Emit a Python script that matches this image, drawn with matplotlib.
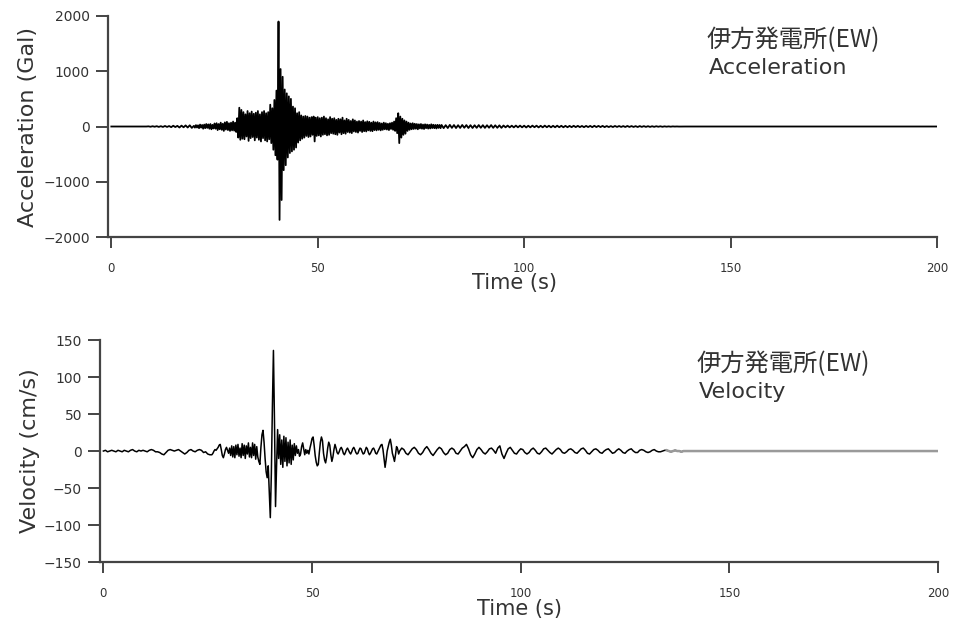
#!/usr/bin/env python3
"""伊方発電所(EW) の加速度・速度波形 (2段) を out.png に描く."""

import matplotlib

matplotlib.use("Agg")
import matplotlib.pyplot as plt
import numpy as np

# ---- データ ----
# 各区間: 開始時刻 [s], サンプル間隔 [s], 値
acc_pre = [
    0, 0, 0, 0, 0, 0, 0, 0, 0, 0, 0, 0, 0, 0, 0, 0, 0, 0, 3, -4,
    5, -4, 6, -7, 6, -8, 10, -8, 9, -12, 14, -10, 12, -18, 16, -14, 20, -18, 22, -25,
]
acc_main = [
    12, -20, 25, -18, 22, -30, 35, -20, 28, -40, 35, -30, 45, -25, 38, -40, 45, -50, 30, -35,
    55, -40, 60, -65, 45, -50, 70, -60, 50, -80, 75, -55, 85, -65, 60, -80, 70, -70, 90, -75,
    70, -100, 150, -200, 340, -240, 300, -220, 260, -230, 220, -180, 280, -260, 240, -210, 270, -190, 230, -250,
    250, -200, 280, -240, 220, -270, 260, -210, 280, -250, 240, -270, 260, -230, 395, -300, 330, -420, 480, -520,
    650, -600, 1900, -1690, 1040, -1330, 900, -790, 670, -700, 600, -560, 545, -480, 500, -450, 360, -420, 330, -380,
    240, -290, 260, -250, 200, -220, 180, -200, 190, -170, 180, -190, 160, -180, 170, -150, 180, -270, 160, -170,
    170, -160, 150, -180, 160, -150, 180, -140, 150, -160, 130, -150, 170, -120, 140, -130, 150, -140, 120, -150,
    140, -110, 130, -140, 160, -120, 110, -130, 140, -100, 120, -110, 100, -120, 130, -90, 110, -100, 90, -110,
    100, -80, 90, -100, 110, -85, 80, -90, 95, -70, 85, -80, 70, -85, 90, -65, 75, -70, 80, -60,
    65, -70, 55, -60, 70, -50, 60, -55, 50, -65, 60, -45, 70, -60, 90, -80, 150, -120, 240, -300,
    180, -200, 140, -150, 110, -130, 90, -80, 70, -60, 55, -50, 60, -45, 50, -40, 45, -50, 40, -35,
    45, -40, 35, -45, 40, -30, 35, -38, 30, -35, 40, -28, 32, -30, 28, -35, 30, -25, 28, -30,
]
acc_coda = [
    28, -30, 25, -28, 30, -25, 27, -28, 24, -26, 28, -23, 26, -27, 24, -27, 23, -24, 26, -23,
    24, -25, 23, -22, 26, -24, 22, -23, 21, -24, 18, -15, 17, -16, 15, -16, 17, -15, 16, -15,
    15, -17, 14, -15, 16, -13, 15, -16, 13, -15, 16, -13, 14, -15, 13, -14, 15, -13, 13, -14,
    12, -13, 11, -12, 13, -11, 12, -11, 10, -12, 11, -10, 11, -12, 13, -10, 11, -10, 11, -11,
    9, -10, 8, -10, 10, -8, 9, -8, 8, -9, 10, -8, 8, -8, 7, -9, 8, -7, 7, -7,
    6, -7, 5, -6, 5, -4, 4, -5, 3, -3, 2, -3, 2, -1, 1, -1, 0, 0, 0, 0,
]
acc_tail = [0, 0]

vel_pre = [
    0, 1, -1, 0, 1, 0, -1, 1, 0, -1, 1, 0, -1, 1, 2, 0, -1, 1, 0, 1,
    0, -1, 1, 2, 1, -1, -1, -2, -4, -5, -2, 1, 2, 1, 0, 1, 2, 0, -2, -4,
    -2, 1, 2, 0, -1, 1, 2, 1, -2, -1, -4, -5,
]
vel_main = [
    -5, -3, 0, 2, 1, 3, 5, 8, 9, 2, -6, -9, -4, 2, 5, 1, -3, 4, -6, 7,
    -8, 6, -9, 8, -5, 9, -7, 4, -9, 10, -6, 8, -10, 7, -4, 11, -8, 5, -9, 11,
    -6, 9, -11, 6, -8, -14, -18, 5, 22, 28, 12, -10, -28, -36, -20, -55, -90, -30, 60, 136,
    40, -75, -20, 29, -10, 22, -18, 15, -22, 20, -14, 18, -20, 12, -16, 15, -18, 8, -12, 10,
    -6, 7, -3, 2, -7, -4, 6, 11, 3, -5, 2, -3, 1, -4, 4, 10, 17, 19, 8, -6,
    -15, -20, -18, -2, 12, 19, 14, -3, -12, -16, -8, 4, 12, 8, -5, -14, -8, 2, 9, 4,
    -2, -4, -1, 3, 5, 2, -3, -5, -2, 2, 4, 1, -2, -4, -1, 3, 5, 2, -2, -4,
    -3, 1, 4, 3, -1, -4, -3, 1, 5, 3, -2, -5, -3, 0, 3, 4, 1, -3, -4, -1,
    2, 5, 8, 9, 2, -10, -22, -12, 0, 6, 12, 16, 8, -3, -8, -14, -5, 6, 3, -4,
]
vel_coda = [
    0, 4, 2, -3, -5, -1, 3, 5, 2, -3, -5, -2, 3, 6, 2, -3, -6, -2, 2, 5,
    3, -2, -5, -3, 2, 4, 2, -3, -4, 0, 4, 6, 9, 3, -5, -9, -4, 2, 5, 2,
    -2, -4, -1, 3, 4, 1, -3, 4, 7, -4, -10, -3, 3, 5, 1, -3, -4, 0, 3, 2,
    -2, -4, -2, 2, 4, 1, -3, -4, -1, 3, 4, 1, -2, -4, -1, 2, 4, 2, -2, -3,
    -1, 2, 3, 1, -2, -3, 0, 3, 4, 1, -3, -4, -1, 2, 3, 1, -2, -3, 0, 2,
    3, 0, -3, -2, 1, 3, 1, -2, -3, 0, 2, 3, 0, -2, -2, 1, 2, 1, -1, -2,
    -1, 1, 2, 0, -1, -1, 0, 1, 1, 0, -1, 0, 1, 0, 0, -1, 0, 0,
]
vel_tail = [0, 0]

ACC_SEGMENTS = [(0.0, 0.5, acc_pre), (20.0, 0.25, acc_main), (80.0, 0.5, acc_coda), (140.0, 60.0, acc_tail)]
VEL_SEGMENTS = [(0.0, 0.5, vel_pre), (26.0, 0.25, vel_main), (71.0, 0.5, vel_coda), (140.0, 60.0, vel_tail)]

x_ticks = [0, 50, 100, 150, 200]
acc_ticks = [-2000, -1000, 0, 1000, 2000]
vel_ticks = [-150, -100, -50, 0, 50, 100, 150]

STATION = "伊方発電所(EW)"
AXIS_GRAY = "#444444"
TEXT_GRAY = "#333333"
CJK = ["Noto Sans CJK JP", "DejaVu Sans"]


def _stitch(segments):
    ts, vs = [], []
    for t0, dt, vals in segments:
        ts.append(t0 + dt * np.arange(len(vals)))
        vs.append(np.asarray(vals, dtype=float))
    return np.concatenate(ts), np.concatenate(vs)


def _style_axes(ax, yticks, ylabel, ylim, label_x, ylabel_x):
    for side in ("top", "right"):
        ax.spines[side].set_visible(False)
    for side in ("left", "bottom"):
        ax.spines[side].set_color(AXIS_GRAY)
        ax.spines[side].set_linewidth(1.6)
    ax.set_xlim(-0.8, 200)
    ax.set_ylim(*ylim)
    ax.set_xticks(x_ticks)
    ax.set_yticks(yticks)
    ax.tick_params(axis="x", direction="out", length=8, width=1.4, color=AXIS_GRAY,
                   labelsize=8.5, labelcolor=TEXT_GRAY, pad=10)
    ax.tick_params(axis="y", direction="out", length=9, width=1.4, color=AXIS_GRAY,
                   labelsize=10, labelcolor=TEXT_GRAY, pad=4)
    ax.set_xlabel("Time (s)", fontsize=15, color=TEXT_GRAY)
    ax.xaxis.set_label_coords(label_x, -0.165)
    ax.set_ylabel(ylabel, fontsize=16, color=TEXT_GRAY)
    ax.yaxis.set_label_coords(ylabel_x, 0.5)


def _annotate(ax, x, kind):
    ax.text(x, 0.95, STATION, transform=ax.transAxes, fontsize=17.5,
            family=CJK, color=TEXT_GRAY, va="top")
    ax.text(x + 0.003, 0.81, kind, transform=ax.transAxes, fontsize=16,
            color=TEXT_GRAY, va="top")


def main() -> None:
    plt.rcParams["font.family"] = ["DejaVu Sans", "Noto Sans CJK JP"]
    t_acc, acc = _stitch(ACC_SEGMENTS)
    t_vel, vel = _stitch(VEL_SEGMENTS)

    fig = plt.figure(figsize=(9.61, 6.2), dpi=100)
    ax1 = fig.add_axes([0.1124, 0.6177, 0.8626, 0.3565])
    ax2 = fig.add_axes([0.1041, 0.0935, 0.872, 0.358])

    ax1.plot(t_acc, acc, color="black", linewidth=1.3)
    _style_axes(ax1, acc_ticks, "Acceleration (Gal)", (-2000, 2000), 0.49, -0.085)
    _annotate(ax1, 0.722, "Acceleration")

    ax2.plot(t_vel, vel, color="black", linewidth=1.1)
    tail = t_vel >= 135
    ax2.plot(t_vel[tail], vel[tail], color="#9a9a9a", linewidth=1.8)
    _style_axes(ax2, vel_ticks, "Velocity (cm/s)", (-150, 150), 0.50, -0.072)
    _annotate(ax2, 0.712, "Velocity")

    fig.savefig("out.png", dpi=100)
    plt.close(fig)


if __name__ == "__main__":
    main()
